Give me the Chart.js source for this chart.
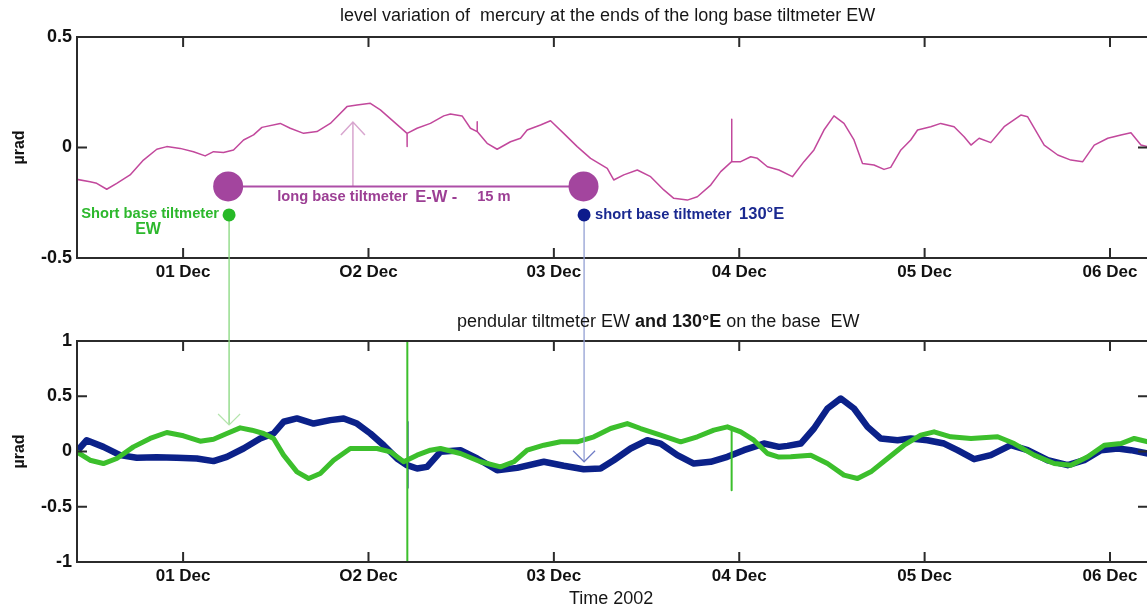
<!DOCTYPE html>
<html>
<head>
<meta charset="utf-8">
<script src="https://cdn.jsdelivr.net/npm/chart.js@4.4.0/dist/chart.umd.min.js"></script>
<style>
html,body{margin:0;padding:0;background:#fff;}
body{width:1147px;height:609px;overflow:hidden;position:relative;font-family:"Liberation Sans",Arial,sans-serif;}
canvas{position:absolute;left:0;}
#topChart{top:0;}
#bottomChart{top:290px;}
#overlay{top:0;pointer-events:none;}
.txt{position:absolute;white-space:pre;color:#161616;font-size:18px;line-height:20px;}
</style>
</head>
<body>
<canvas id="topChart" width="1160" height="300"></canvas>
<canvas id="bottomChart" width="1160" height="319"></canvas>
<canvas id="overlay" width="1147" height="609"></canvas>
<div class="txt" style="left:340px;top:5px">level variation of  mercury at the ends of the long base tiltmeter EW</div>
<div class="txt" style="left:457px;top:311px">pendular tiltmeter EW <b>and 130°E</b> on the base  EW</div>
<div class="txt" style="left:569px;top:588px">Time 2002</div>
<script>
// x in days, 1 = 01 Dec 2002 00:00
const xMin = 0.4276, xMax = 6.205;
const xTickDays = [1, 2, 3, 4, 5, 6];
const xTickLabels = ["01 Dec", "O2 Dec", "03 Dec", "04 Dec", "05 Dec", "06 Dec"];
const topYTicks = [-0.5, 0, 0.5];
const bottomYTicks = [-1, -0.5, 0, 0.5, 1];

// mercury level, long base EW (µrad)
const mercuryDays = [0.426,0.498,0.534,0.588,0.642,0.714,0.786,0.858,0.912,0.984,1.056,1.119,1.164,1.218,1.272,1.326,1.380,1.425,1.524,1.578,1.650,1.722,1.794,1.830,1.884,1.938,2.010,2.064,2.136,2.208,2.208,2.209,2.262,2.334,2.406,2.442,2.505,2.550,2.586,2.586,2.587,2.640,2.694,2.766,2.820,2.856,2.928,2.982,3.053,3.126,3.198,3.288,3.323,3.377,3.450,3.522,3.593,3.647,3.720,3.774,3.846,3.900,3.959,3.959,3.960,4.008,4.062,4.098,4.152,4.214,4.287,4.349,4.403,4.457,4.511,4.565,4.619,4.665,4.727,4.781,4.817,4.872,4.925,4.962,5.033,5.087,5.159,5.213,5.250,5.294,5.357,5.429,5.519,5.556,5.645,5.718,5.789,5.853,5.915,5.988,6.059,6.113,6.167,6.204];
const mercuryVals = [-0.144,-0.155,-0.162,-0.189,-0.162,-0.124,-0.057,-0.008,0.004,-0.004,-0.019,-0.038,-0.019,-0.023,-0.011,0.034,0.057,0.091,0.109,0.087,0.064,0.072,0.109,0.139,0.185,0.192,0.200,0.170,0.117,0.064,0.004,0.064,0.087,0.109,0.143,0.152,0.143,0.087,0.072,0.117,0.072,0.019,-0.008,0.026,0.042,0.079,0.102,0.121,0.064,0.004,-0.049,-0.094,-0.147,-0.124,-0.102,-0.132,-0.192,-0.230,-0.238,-0.223,-0.170,-0.109,-0.064,0.128,-0.064,-0.064,-0.042,-0.049,-0.087,-0.102,-0.132,-0.064,-0.011,0.079,0.143,0.109,0.034,-0.072,-0.079,-0.099,-0.090,-0.011,0.034,0.079,0.094,0.109,0.094,0.049,0.011,0.042,0.022,0.094,0.147,0.139,0.011,-0.034,-0.057,-0.064,0.011,0.042,0.057,0.067,0.011,0.004];

// pendular tiltmeter EW (green)
const ewDays = [0.426,0.498,0.570,0.642,0.732,0.822,0.912,1.002,1.092,1.164,1.236,1.308,1.371,1.434,1.488,1.542,1.614,1.677,1.740,1.812,1.902,1.974,2.046,2.118,2.190,2.262,2.334,2.388,2.496,2.604,2.712,2.784,2.856,2.946,3.036,3.126,3.216,3.306,3.396,3.468,3.576,3.684,3.774,3.863,3.936,4.008,4.079,4.152,4.214,4.278,4.386,4.476,4.565,4.638,4.710,4.800,4.889,4.979,5.051,5.141,5.250,5.394,5.483,5.591,5.699,5.789,5.880,5.969,6.059,6.131,6.204];
const ewVals = [-0.003,-0.079,-0.109,-0.063,0.042,0.118,0.172,0.142,0.093,0.111,0.163,0.214,0.193,0.163,0.118,-0.033,-0.184,-0.244,-0.199,-0.079,0.027,0.027,0.027,-0.003,-0.093,-0.033,0.012,0.027,-0.018,-0.093,-0.139,-0.093,0.012,0.057,0.088,0.088,0.133,0.208,0.253,0.208,0.148,0.088,0.133,0.193,0.223,0.178,0.102,-0.018,-0.050,-0.048,-0.033,-0.109,-0.214,-0.244,-0.184,-0.063,0.057,0.148,0.178,0.133,0.118,0.133,0.072,-0.033,-0.109,-0.124,-0.048,0.057,0.072,0.118,0.088];
const ewSpikeDays = [2.2095, 3.959];
const ewSpikeTop = [1.0, 0.20];
const ewSpikeBottom = [-1.0, -0.35];

// pendular tiltmeter 130°E (navy)
const e130Days = [0.426,0.480,0.570,0.660,0.750,0.858,0.966,1.074,1.164,1.236,1.326,1.416,1.488,1.542,1.614,1.704,1.794,1.866,1.938,2.010,2.082,2.154,2.208,2.262,2.316,2.388,2.496,2.586,2.694,2.802,2.946,3.053,3.161,3.252,3.323,3.414,3.504,3.576,3.666,3.755,3.846,3.936,4.025,4.133,4.214,4.260,4.332,4.403,4.476,4.548,4.619,4.692,4.763,4.854,4.925,5.015,5.105,5.177,5.267,5.357,5.465,5.556,5.664,5.772,5.861,5.951,6.042,6.113,6.204];
const e130Vals = [0.000,0.102,0.042,-0.033,-0.057,-0.051,-0.057,-0.063,-0.087,-0.048,0.027,0.118,0.163,0.269,0.299,0.253,0.284,0.299,0.253,0.163,0.057,-0.063,-0.124,-0.154,-0.139,-0.003,0.012,-0.063,-0.169,-0.148,-0.093,-0.129,-0.160,-0.154,-0.079,0.027,0.102,0.072,-0.033,-0.109,-0.093,-0.048,0.012,0.072,0.042,0.051,0.072,0.208,0.389,0.480,0.389,0.223,0.118,0.102,0.118,0.102,0.072,0.012,-0.069,-0.033,0.057,0.012,-0.079,-0.124,-0.079,0.012,0.027,0.012,-0.018];
const e130SpikeDays = [2.212];
const e130SpikeTop = [0.27];
const e130SpikeBottom = [-0.33];

// sketch annotations (data coordinates)
const longBaseEnds = [1.243, 3.160];
const longBaseLevel = -0.176;
const upArrow = {day: 1.916, tip: 0.115};
const sensorLevel = -0.305;
const ewSensor = {day: 1.248, tip: 0.24};
const e130Sensor = {day: 3.163, tip: -0.093};

const FONT = "'Liberation Sans', Arial, sans-serif";

function zip(xs, ys){ return xs.map((x, i) => ({x: x, y: ys[i]})); }
function spikes(xs, tops, bottoms){
  const out = [];
  xs.forEach((x, i) => { out.push({x: x, y: tops[i]}, {x: x, y: bottoms[i]}, {x: x, y: null}); });
  return out;
}

const framePlugin = {
  id: "frame",
  afterDraw(chart){
    const {ctx, chartArea: a, scales} = chart;
    ctx.save();
    ctx.strokeStyle = "#2b2b2b";
    ctx.lineWidth = 2;
    ctx.beginPath();
    ctx.moveTo(a.right + 2, a.top); ctx.lineTo(a.left, a.top);
    ctx.lineTo(a.left, a.bottom); ctx.lineTo(a.right + 2, a.bottom);
    xTickDays.forEach(d => {
      const px = scales.x.getPixelForValue(d);
      ctx.moveTo(px, a.top); ctx.lineTo(px, a.top + 10);
      ctx.moveTo(px, a.bottom); ctx.lineTo(px, a.bottom - 10);
    });
    chart.options.scales.y.tickValues.forEach(v => {
      const py = scales.y.getPixelForValue(v);
      ctx.moveTo(a.left, py); ctx.lineTo(a.left + 10, py);
      ctx.moveTo(a.right, py); ctx.lineTo(a.right - 10, py);
    });
    ctx.stroke();
    ctx.restore();
  }
};

function makeOptions(yTicks, yMin, yMax, padTop, xHeight){
  return {
    responsive: false,
    animation: false,
    events: [],
    layout: {padding: {top: padTop, left: 0, right: 12, bottom: 0}},
    plugins: {legend: {display: false}, tooltip: {enabled: false}},
    elements: {point: {radius: 0}, line: {tension: 0, borderJoinStyle: "round"}},
    scales: {
      x: {
        type: "linear", min: xMin, max: xMax,
        grid: {display: false, drawTicks: false}, border: {display: false},
        afterBuildTicks: s => { s.ticks = xTickDays.map(v => ({value: v})); },
        afterFit: s => { s.height = xHeight; },
        ticks: {
          padding: 4, color: "#111", maxRotation: 0, autoSkip: false,
          font: {family: FONT, size: 17, weight: "bold"},
          callback: v => xTickLabels[xTickDays.indexOf(v)]
        }
      },
      y: {
        type: "linear", min: yMin, max: yMax,
        tickValues: yTicks,
        grid: {display: false, drawTicks: false}, border: {display: false},
        afterBuildTicks: s => { s.ticks = yTicks.map(v => ({value: v})); },
        afterFit: s => { s.width = 77; },
        ticks: {
          padding: 5, color: "#111",
          font: {family: FONT, size: 18, weight: "bold"},
          callback: v => String(v)
        },
        title: {
          display: true, text: "µrad", color: "#111",
          padding: {top: 10, bottom: 0},
          font: {family: FONT, size: 16, weight: "bold"}
        }
      }
    }
  };
}

const topChart = new Chart("topChart", {
  type: "line",
  data: {
    datasets: [{
      data: zip(mercuryDays, mercuryVals),
      borderColor: "#c2489c",
      borderWidth: 1.5,
      fill: false
    }]
  },
  options: makeOptions(topYTicks, -0.5, 0.5, 37, 42),
  plugins: [framePlugin]
});

const bottomChart = new Chart("bottomChart", {
  type: "line",
  data: {
    datasets: [
      {data: zip(ewDays, ewVals), borderColor: "#3cbf2c", borderWidth: 5, fill: false, order: 1},
      {data: spikes(ewSpikeDays, ewSpikeTop, ewSpikeBottom), borderColor: "#3cbf2c", borderWidth: 2, fill: false, spanGaps: false, order: 2},
      {data: zip(e130Days, e130Vals), borderColor: "#0b2189", borderWidth: 6.5, fill: false, order: 3},
      {data: spikes(e130SpikeDays, e130SpikeTop, e130SpikeBottom), borderColor: "#0b2189", borderWidth: 1.5, fill: false, spanGaps: false, order: 4}
    ]
  },
  options: makeOptions(bottomYTicks, -1, 1, 51, 47),
  plugins: [framePlugin]
});

// sketch overlay linking the two panels
(function drawOverlay(){
  const ctx = document.getElementById("overlay").getContext("2d");
  const bottomTop = 290;
  const tx = d => topChart.scales.x.getPixelForValue(d);
  const ty = v => topChart.scales.y.getPixelForValue(v);
  const by = v => bottomTop + bottomChart.scales.y.getPixelForValue(v);

  function vArrowDown(x, tipY, color){
    ctx.strokeStyle = color; ctx.lineWidth = 1.2;
    ctx.beginPath();
    ctx.moveTo(x - 11, tipY - 11); ctx.lineTo(x, tipY); ctx.lineTo(x + 11, tipY - 11);
    ctx.stroke();
  }
  function dot(x, y, r, color){
    ctx.fillStyle = color;
    ctx.beginPath(); ctx.arc(x, y, r, 0, Math.PI * 2); ctx.fill();
  }

  const yBase = ty(longBaseLevel);
  const xL = tx(longBaseEnds[0]), xR = tx(longBaseEnds[1]);

  // up arrow
  const ax = tx(upArrow.day), aTip = ty(upArrow.tip);
  ctx.strokeStyle = "#d8a6cf"; ctx.lineWidth = 1.5;
  ctx.beginPath();
  ctx.moveTo(ax, yBase); ctx.lineTo(ax, aTip);
  ctx.moveTo(ax - 12, aTip + 13); ctx.lineTo(ax, aTip); ctx.lineTo(ax + 12, aTip + 13);
  ctx.stroke();

  // long base line
  ctx.strokeStyle = "#ad4fa7"; ctx.lineWidth = 2;
  ctx.beginPath(); ctx.moveTo(xL, yBase); ctx.lineTo(xR, yBase); ctx.stroke();
  dot(xL, yBase, 15, "#a3459e");
  dot(xR, yBase, 15, "#a3459e");

  // EW sensor
  const gx = tx(ewSensor.day), gy = ty(sensorLevel), gTip = by(ewSensor.tip);
  ctx.strokeStyle = "#86d77c"; ctx.lineWidth = 1.3;
  ctx.beginPath(); ctx.moveTo(gx, gy); ctx.lineTo(gx, gTip); ctx.stroke();
  vArrowDown(gx, gTip, "#b5e4ad");
  dot(gx, gy, 6.5, "#27b927");

  // 130°E sensor
  const nx = tx(e130Sensor.day), ny = ty(sensorLevel), nTip = by(e130Sensor.tip);
  ctx.strokeStyle = "#93a0d4"; ctx.lineWidth = 1.3;
  ctx.beginPath(); ctx.moveTo(nx, ny); ctx.lineTo(nx, nTip); ctx.stroke();
  vArrowDown(nx, nTip, "#6f7cc6");
  dot(nx, ny, 6.5, "#0d1b8c");

  // labels
  ctx.textBaseline = "middle";
  ctx.fillStyle = "#9c3f94";
  ctx.font = "bold 14.7px " + FONT;
  ctx.textAlign = "left";
  ctx.fillText("long base tiltmeter", xL + 49, yBase + 11);
  ctx.font = "bold 16.5px " + FONT;
  ctx.fillText("E-W -", xL + 187, yBase + 11);
  ctx.font = "bold 14.7px " + FONT;
  ctx.fillText("15 m", xL + 249, yBase + 11);

  ctx.fillStyle = "#2db82d";
  ctx.textAlign = "right";
  ctx.font = "bold 14.7px " + FONT;
  ctx.fillText("Short base tiltmeter", gx - 10, gy - 1);
  ctx.textAlign = "center";
  ctx.font = "bold 16px " + FONT;
  ctx.fillText("EW", gx - 81, gy + 15);

  ctx.fillStyle = "#1a2990";
  ctx.textAlign = "left";
  ctx.font = "bold 14.7px " + FONT;
  ctx.fillText("short base tiltmeter", nx + 11, ny);
  ctx.font = "bold 16.5px " + FONT;
  ctx.fillText("130°E", nx + 155, ny);
})();
</script>
</body>
</html>
